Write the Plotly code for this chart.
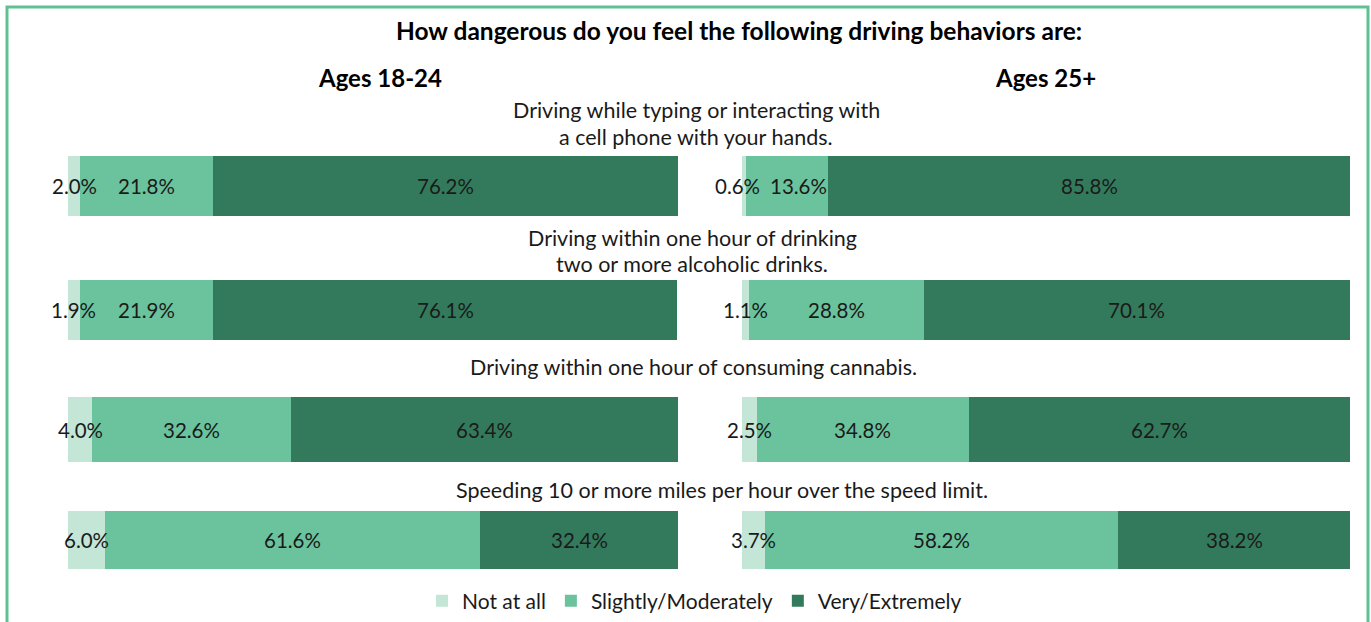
import plotly.graph_objects as go

# ---------------- data ----------------
questions = [
    ["Driving while typing or interacting with", "a cell phone with your hands."],
    ["Driving within one hour of drinking", "two or more alcoholic drinks."],
    ["Driving within one hour of consuming cannabis."],
    ["Speeding 10 or more miles per hour over the speed limit."],
]
series_names = ["Not at all", "Slightly/Moderately", "Very/Extremely"]

young_not = [2.0, 1.9, 4.0, 6.0]
young_slight = [21.8, 21.9, 32.6, 61.6]
young_very = [76.2, 76.1, 63.4, 32.4]

older_not = [0.6, 1.1, 2.5, 3.7]
older_slight = [13.6, 28.8, 34.8, 58.2]
older_very = [85.8, 70.1, 62.7, 38.2]

title = "How dangerous do you feel the following driving behaviors are:"
group_titles = ["Ages 18-24", "Ages 25+"]

# ---------------- layout / style ----------------
W, H = 1371, 622
colors = ["#c3e6d6", "#6bc39e", "#337a5c"]
FONT = "Lato"
TXT = "#1a1a1a"
row_center = [186, 310, 429.5, 540]      # pixel rows (y axis is in pixels)
row_height = [60, 60, 65, 58]
q_line_y = [[110, 137], [238, 264], [367], [490]]
q_x = [696, 692, 693, 722]
# label nudges (px) to keep crowded labels apart: (group, row, series) -> shift
label_shift = {(1, 0, 0): -6, (1, 0, 1): 12}

fig = go.Figure()

groups = [
    ("x", [young_not, young_slight, young_very]),
    ("x2", [older_not, older_slight, older_very]),
]

for gi, (xa, vals) in enumerate(groups):
    for si, (name, v) in enumerate(zip(series_names, vals)):
        fig.add_trace(go.Bar(
            x=v, y=row_center, width=row_height, orientation="h",
            name=name, marker=dict(color=colors[si], line=dict(width=0)),
            xaxis=xa, yaxis="y", showlegend=(gi == 0),
            hoverinfo="x+name",
        ))
    # labels centred on each segment
    for r in range(len(questions)):
        cum = 0.0
        for si in range(3):
            val = vals[si][r]
            fig.add_annotation(
                x=cum + val / 2, y=row_center[r], xref=xa, yref="y",
                text=f"{val:.1f}%", showarrow=False, xanchor="center",
                xshift=label_shift.get((gi, r, si), 0),
                font=dict(family=FONT, size=20.5, color=TXT),
            )
            cum += val

# question texts
for r, lines in enumerate(questions):
    for li, line in enumerate(lines):
        fig.add_annotation(
            x=q_x[r] / W, y=q_line_y[r][li], xref="paper", yref="y",
            text=line, showarrow=False, xanchor="center",
            font=dict(family=FONT, size=21.5, color=TXT),
        )

# titles
fig.add_annotation(x=739 / W, y=30, xref="paper", yref="y", text=f"<b>{title}</b>",
                   showarrow=False, xanchor="center",
                   font=dict(family=FONT, size=24.5, color="#000000"))
fig.add_annotation(x=380 / W, y=77, xref="paper", yref="y", text=f"<b>{group_titles[0]}</b>",
                   showarrow=False, xanchor="center",
                   font=dict(family=FONT, size=24, color="#000000"))
fig.add_annotation(x=1045 / W, y=77, xref="paper", yref="y", text=f"<b>{group_titles[1]}</b>",
                   showarrow=False, xanchor="center",
                   font=dict(family=FONT, size=24, color="#000000"))

# frame
fig.add_shape(type="rect", xref="paper", yref="paper",
              x0=7 / W, x1=1368 / W, y0=-0.1, y1=1 - 7 / H,
              line=dict(color="#5ec196", width=3), fillcolor="rgba(0,0,0,0)")

fig.update_layout(
    width=W, height=H,
    margin=dict(l=0, r=0, t=0, b=0),
    paper_bgcolor="white", plot_bgcolor="white",
    barmode="stack", bargap=0,
    xaxis=dict(domain=[68 / W, 678 / W], range=[0, 100], visible=False, fixedrange=True),
    xaxis2=dict(domain=[742 / W, 1350 / W], range=[0, 100], visible=False, anchor="y", fixedrange=True),
    yaxis=dict(domain=[0, 1], range=[H, 0], visible=False, fixedrange=True),
    legend=dict(orientation="h", x=0.5 + 9 / W, xanchor="center", y=1 - 601 / H, yanchor="middle",
                font=dict(family=FONT, size=21, color=TXT),
                itemwidth=30, traceorder="normal"),
    font=dict(family=FONT),
    showlegend=True,
)

fig.write_html(
    "out.html",
    config={"displayModeBar": False},
    post_script="document.body.style.margin='0';document.body.style.overflow='hidden';",
)
